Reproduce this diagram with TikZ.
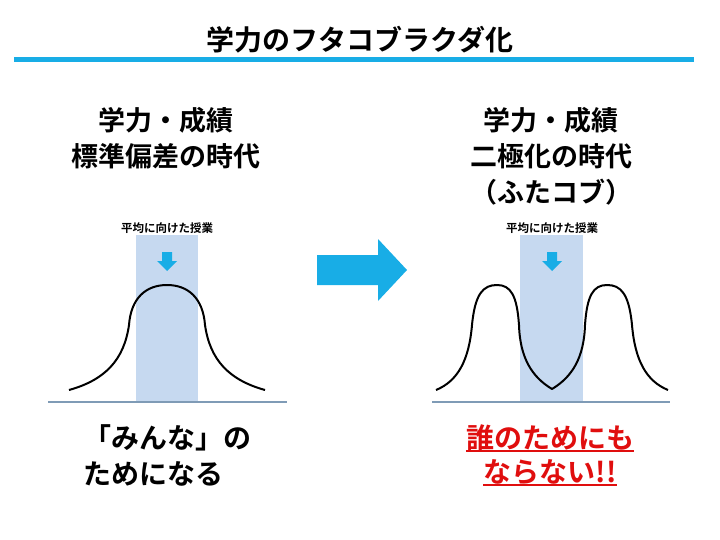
\documentclass[tikz,border=0pt]{standalone}
\usepackage{fontspec}
\setmainfont{Noto Sans CJK JP}[BoldFont={Noto Sans CJK JP Bold}]
\usepackage{tikz}
\usetikzlibrary{calc}
\definecolor{skyblue}{RGB}{24,173,230}
\definecolor{bandblue}{RGB}{198,217,240}
\definecolor{axisgray}{RGB}{127,155,182}
\definecolor{alertred}{RGB}{224,14,14}
\tikzstyle{title} = [
    font=\bfseries\fontsize{28}{34}\selectfont,
    inner sep=0pt
]
\tikzstyle{head}  = [
    font=\bfseries\fontsize{27}{36}\selectfont,
    align=center,
    inner sep=0pt
]
\tikzstyle{note}  = [
    font=\bfseries\fontsize{11.5}{14}\selectfont,
    inner sep=0pt
]
\tikzstyle{verdict}  = [
    font=\bfseries\fontsize{28}{36}\selectfont,
    inner sep=0pt
]
\tikzstyle{curve} = [
    draw,
    line width=2pt,
    line join=round
]
\tikzstyle{axis}  = [
    draw=axisgray,
    line width=1.5pt
]

\begin{document}
\begin{tikzpicture}[x = 1pt, y = -1pt]
\useasboundingbox (0,0) rectangle (720,540);
\node[title] (ttl)         at (360,40)  {学力のフタコブラクダ化};
\fill[skyblue] (14,57) rectangle (694,62);

\node[head] (lhead)         at (166,138)  {学力・成績\\標準偏差の時代};
\node[head] (rhead)         at (551,156)  {学力・成績\\二極化の時代\\（ふたコブ）};
\node[note] (lnote)         at (167,228)  {平均に向けた授業};
\node[note] (rnote)         at (552,228)  {平均に向けた授業};

\fill[bandblue] (136,235) rectangle (198,402);
\fill[bandblue] (520,235) rectangle (583,402);
\draw[axis] (48,402) -- (287,402);
\draw[axis] (432,402) -- (670,402);

\fill[skyblue] (162,252) -- (172,252) -- (172,261) -- (177,261) -- (167,271) -- (157,261) -- (162,261) -- cycle;
\fill[skyblue] (547,252) -- (557,252) -- (557,261) -- (562,261) -- (552,271) -- (542,261) -- (547,261) -- cycle;
\fill[skyblue] (317,255) -- (378,255) -- (378,239) -- (407,270) -- (378,301) -- (378,285) -- (317,285) -- cycle;

\draw[curve] (69,390) .. controls (105,380) and (124,360) .. (129,325)
    .. controls (131,298) and (146,285) .. (167,285)
    .. controls (188,285) and (203,298) .. (205,325)
    .. controls (210,360) and (229,380) .. (265,390);
\draw[curve] (436,390) .. controls (458,381) and (469,360) .. (472,325)
    .. controls (475,294) and (483,285) .. (497,285)
    .. controls (511,285) and (517,296) .. (519,325)
    .. controls (520,358) and (532,377) .. (552,389)
    .. controls (572,377) and (584,358) .. (585,325)
    .. controls (587,296) and (593,285) .. (607,285)
    .. controls (621,285) and (629,294) .. (632,325)
    .. controls (635,360) and (646,381) .. (668,390);

\node[verdict, align=left, anchor=west] (lgood)         at (83,455)  {「みんな」の\\ためになる};
\node[verdict, text=alertred] (rbad1)         at (550,438)  {誰のためにも};
\node[verdict, text=alertred] (rbad2)         at (550,472)  {ならない!!};
\draw[alertred, line width=2pt] (rbad1.south west) -- (rbad1.south east);
\draw[alertred, line width=2pt] (rbad2.south west) -- (rbad2.south east);

\end{tikzpicture}
\end{document}
